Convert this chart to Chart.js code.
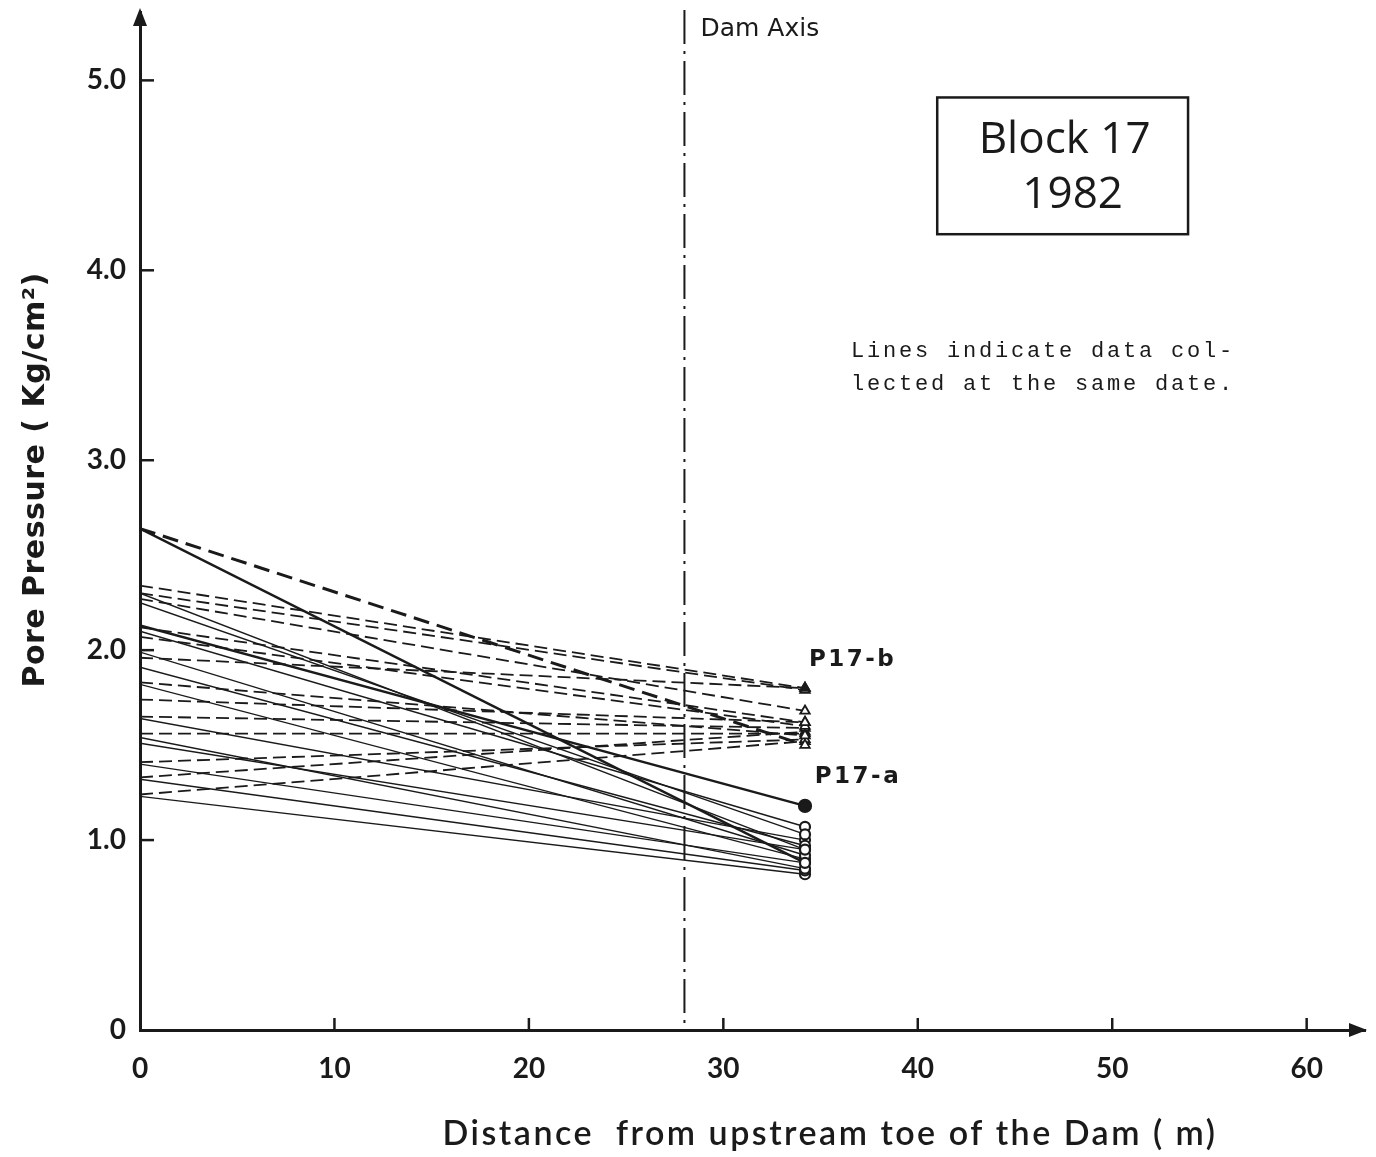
<!DOCTYPE html>
<html>
<head>
<meta charset="utf-8">
<script src="https://cdn.jsdelivr.net/npm/chart.js@4.4.1/dist/chart.umd.min.js"></script>
<style>
  html, body { margin: 0; padding: 0; background: #fff; }
  #wrap { width: 1376px; height: 1157px; position: relative; }
</style>
</head>
<body>
<div id="wrap"><canvas id="c" width="1376" height="1157"></canvas></div>
<script>
// ---- data ----
const xStations = [0, 34.2];          // upstream toe, piezometer location (m)
const damAxisX = 28;                   // dam axis position (m)
const xTickValues = [0, 10, 20, 30, 40, 50, 60];
const yTickValues = [0, 1, 2, 3, 4, 5];

// P17-b (dashed): pore pressure at x=0 and at piezometer
const p17bLeft  = [2.64, 2.34, 2.30, 2.27, 2.12, 2.07, 1.96, 1.83, 1.74, 1.65, 1.56, 1.41, 1.33, 1.24];
const p17bRight = [1.50, 1.80, 1.79, 1.68, 1.62, 1.60, 1.80, 1.55, 1.62, 1.59, 1.56, 1.53, 1.57, 1.52];

// P17-a (solid)
const p17aLeft  = [2.64, 2.30, 2.25, 2.13, 2.10, 1.99, 1.91, 1.82, 1.64, 1.54, 1.51, 1.40, 1.32, 1.23];
const p17aRight = [0.88, 0.95, 1.03, 1.18, 1.07, 0.92, 0.97, 0.90, 1.00, 0.85, 0.95, 0.88, 0.84, 0.82];

const INK = '#1a1a1a';

const datasets = [];
p17bLeft.forEach((v, i) => {
  const thick = i === 0;
  const filled = i === 1;
  datasets.push({
    label: 'P17-b #' + (i + 1),
    data: [{x: xStations[0], y: v}, {x: xStations[1], y: p17bRight[i]}],
    borderColor: INK,
    borderWidth: thick ? 3 : 1.8,
    borderDash: thick ? [16, 8] : [13, 6],
    pointRadius: [0, 5.5],
    pointStyle: 'triangle',
    pointBackgroundColor: filled ? INK : '#fff',
    pointBorderColor: INK,
    pointBorderWidth: 1.8,
    fill: false,
    tension: 0
  });
});
p17aLeft.forEach((v, i) => {
  const main = i === 3;
  datasets.push({
    label: 'P17-a #' + (i + 1),
    data: [{x: xStations[0], y: v}, {x: xStations[1], y: p17aRight[i]}],
    borderColor: INK,
    borderWidth: main || i === 0 ? 2.4 : 1.4,
    pointRadius: [0, main ? 6 : 5],
    pointStyle: 'circle',
    pointBackgroundColor: main ? INK : '#fff',
    pointBorderColor: INK,
    pointBorderWidth: 2.2,
    fill: false,
    tension: 0
  });
});

const TICKFONT = {family: 'Lato', size: 28, weight: 'bold'};

const decor = {
  id: 'decor',
  afterDatasetsDraw(chart) {
    const {ctx, chartArea: a, scales: {x, y}} = chart;
    ctx.save();
    ctx.strokeStyle = INK;
    ctx.fillStyle = INK;
    // inward tick marks
    ctx.lineWidth = 2.5;
    xTickValues.forEach(v => {
      if (v === 0) return;
      const px = x.getPixelForValue(v);
      ctx.beginPath(); ctx.moveTo(px, a.bottom); ctx.lineTo(px, a.bottom - 12); ctx.stroke();
    });
    yTickValues.forEach(v => {
      if (v === 0) return;
      const py = y.getPixelForValue(v);
      ctx.beginPath(); ctx.moveTo(a.left, py); ctx.lineTo(a.left + 14, py); ctx.stroke();
    });
    // arrows
    ctx.beginPath();
    ctx.moveTo(a.left, a.top - 4); ctx.lineTo(a.left - 7, a.top + 14); ctx.lineTo(a.left + 7, a.top + 14); ctx.closePath(); ctx.fill();
    ctx.beginPath();
    ctx.moveTo(a.right + 2, a.bottom); ctx.lineTo(a.right - 16, a.bottom - 7); ctx.lineTo(a.right - 16, a.bottom + 7); ctx.closePath(); ctx.fill();

    // dam axis (dash-dot)
    const dx = x.getPixelForValue(damAxisX);
    ctx.lineWidth = 2;
    ctx.setLineDash([34, 7, 3, 7]);
    ctx.beginPath(); ctx.moveTo(dx, 10); ctx.lineTo(dx, a.bottom); ctx.stroke();
    ctx.setLineDash([]);
    ctx.font = '25px "DejaVu Sans"';
    ctx.textBaseline = 'middle';
    ctx.textAlign = 'left';
    ctx.fillText('Dam Axis', dx + 16, 29);

    // Block box
    const bx1 = x.getPixelForValue(41.0), bx2 = x.getPixelForValue(53.9);
    const by1 = y.getPixelForValue(4.91), by2 = y.getPixelForValue(4.19);
    ctx.lineWidth = 2.5;
    ctx.strokeRect(bx1, by1, bx2 - bx1, by2 - by1);
    ctx.font = '44px "Open Sans"';
    ctx.textAlign = 'center';
    ctx.fillText('Block 17', (bx1 + bx2) / 2 + 2, by1 + 43);
    ctx.fillText('1982', (bx1 + bx2) / 2 + 10, by1 + 98);

    // note
    ctx.font = '22px "Liberation Mono"';
    ctx.letterSpacing = '2.8px';
    ctx.textAlign = 'left';
    ctx.fillText('Lines indicate data col-', 851, 351);
    ctx.fillText('lected at the same date.', 851, 384);

    // series labels
    ctx.font = 'bold 23px "DejaVu Sans"';
    ctx.letterSpacing = '2.5px';
    ctx.fillText('P17-b', x.getPixelForValue(34.4), y.getPixelForValue(1.95));
    ctx.fillText('P17-a', x.getPixelForValue(34.7), y.getPixelForValue(1.33));

    // x axis title
    ctx.font = '600 34px "Lato"';
    ctx.letterSpacing = '2.5px';
    ctx.textAlign = 'center';
    ctx.fillText('Distance  from upstream toe of the Dam ( m)', 830, 1134);

    // y axis title
    ctx.letterSpacing = '0.5px';
    ctx.translate(36, 480);
    ctx.rotate(-Math.PI / 2);
    ctx.font = 'bold 30px "DejaVu Sans"';
    ctx.fillText('Pore Pressure ( Kg/cm²)', 0, 0);
    ctx.restore();
  }
};

new Chart(document.getElementById('c'), {
  type: 'line',
  data: {datasets},
  plugins: [decor],
  options: {
    responsive: false,
    animation: false,
    events: [],
    layout: {padding: {top: 12, right: 11, bottom: 0, left: 0}},
    plugins: {legend: {display: false}, tooltip: {enabled: false}},
    scales: {
      x: {
        type: 'linear', min: 0, max: 63,
        afterFit(s) { s.height = 127; s.paddingLeft = 0; s.paddingRight = 0; },
        grid: {display: false, drawTicks: false},
        border: {display: true, color: INK, width: 3},
        ticks: {
          stepSize: 10, includeBounds: false, padding: 22,
          color: INK, font: TICKFONT,
          callback: v => String(v)
        }
      },
      y: {
        type: 'linear', min: 0, max: 5.36,
        afterFit(s) { s.width = 140; s.paddingTop = 0; s.paddingBottom = 0; },
        grid: {display: false, drawTicks: false},
        border: {display: true, color: INK, width: 3},
        ticks: {
          stepSize: 1, includeBounds: false, padding: 14,
          color: INK, font: TICKFONT,
          callback: v => v === 0 ? '0' : v.toFixed(1)
        }
      }
    }
  }
});
</script>
</body>
</html>
